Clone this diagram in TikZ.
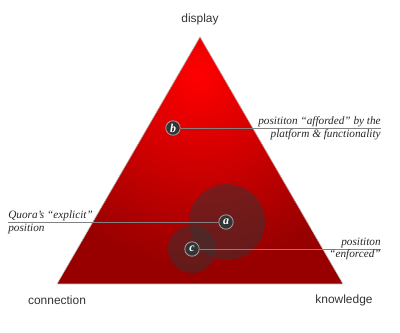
\documentclass[tikz,border=0pt]{standalone}
\usepackage{fontspec}
\setmainfont{Liberation Serif}
\setsansfont{Liberation Sans}

\definecolor{apexred}{RGB}{255,0,0}
\definecolor{basered}{RGB}{152,0,0}
\definecolor{pinfill}{RGB}{52,52,52}
\definecolor{leadgray}{RGB}{130,130,130}

\begin{document}
\begin{tikzpicture}[x=0.025cm,y=-0.025cm,
		corner/.style={font=\sffamily\fontsize{8.5}{10}\selectfont, text=black!80},
		pin/.style={circle, fill=pinfill, draw=gray!75, line width=0.6pt, minimum size=0.36cm, inner sep=0pt,
			text=white, font=\bfseries\itshape\fontsize{8.5}{8.5}\selectfont},
		halo/.style={circle, fill=pinfill, fill opacity=0.5, inner sep=0pt},
		lead/.style={draw=leadgray, line width=0.65pt},
		note/.style={font=\itshape\fontsize{8}{9.2}\selectfont, inner sep=0pt, text=black!85}]
		\useasboundingbox (0,0) rectangle (400,333);
		
		\coordinate (top) at (200,37);
		\coordinate (left) at (57,284);
		\coordinate (right) at (343,284);
		
		\begin{scope}
			\clip (top) -- (left) -- (right) -- cycle;
			\fill[basered] (0,0) rectangle (400,333);
			\shade[inner color=apexred, outer color=basered] (197,75) circle (190);
		\end{scope}
		\draw[gray!50, line width=0.4pt] (top) -- (left) -- (right) -- cycle;
		
		\node[corner] (display) at (200,19) {display};
		\node[corner] (connection) at (57,300) {connection};
		\node[corner] (knowledge) at (344,300) {knowledge};
		
		\node[halo, minimum size=1.9cm] (haloa) at (227,222) {};
		\node[halo, minimum size=1.2cm] (haloc) at (192,249) {};
		
		\node[pin] (a) at (226,222) {a};
		\node[pin] (b) at (173,128) {b};
		\node[pin] (c) at (192,249) {c};
		
		\coordinate (aend) at (8,222);
		\coordinate (bend) at (381,128);
		\coordinate (cend) at (381,249);
		\draw[lead] (a) -- (aend);
		\draw[lead] (b) -- (bend);
		\draw[lead] (c) -- (cend);
		
		\node[note, anchor=west, align=left] (anote) at (aend) {Quora’s “explicit”\\position};
		\node[note, anchor=east, align=right] (bnote) at (bend) {posititon “afforded” by the\\platform \& functionality};
		\node[note, anchor=east, align=right] (cnote) at (cend) {posititon\\“enforced”};
		
	\end{tikzpicture}
\end{document}
